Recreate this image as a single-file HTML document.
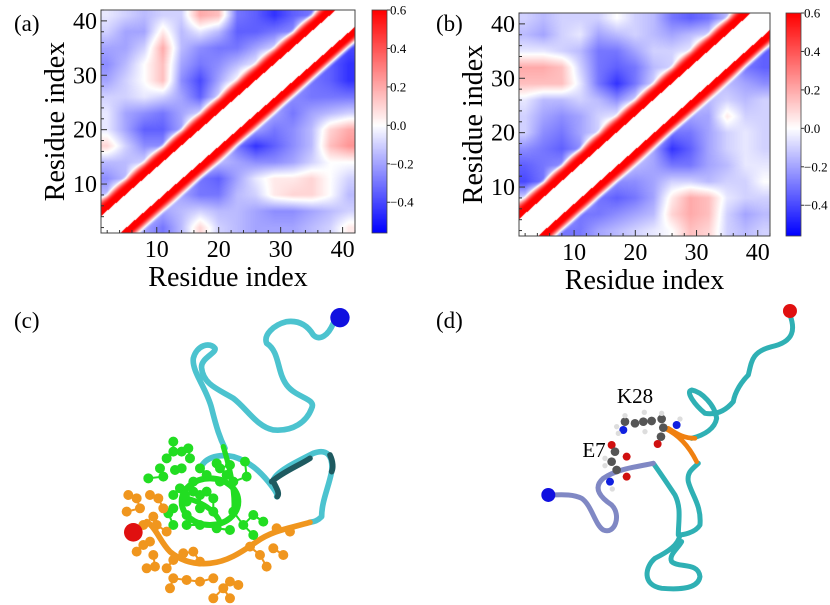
<!DOCTYPE html>
<html><head><meta charset="utf-8"><style>
html,body{margin:0;padding:0;background:#fff;}
#root{position:relative;width:830px;height:605px;overflow:hidden;font-family:"Liberation Serif",serif;}
canvas{position:absolute;}
svg{position:absolute;left:0;top:0;font-family:"Liberation Serif",serif;}
</style></head><body>
<div id="root">
<canvas id="hmA" style="left:101px;top:10px" width="254" height="223"></canvas>
<canvas id="cbA" style="left:372px;top:10px" width="15" height="223"></canvas>
<canvas id="hmB" style="left:519px;top:13px" width="251" height="223"></canvas>
<canvas id="cbB" style="left:786px;top:13px" width="15" height="223"></canvas>
<svg id="ov" width="830" height="605">
<text x="14" y="31" font-size="23">(a)</text>
<text x="436" y="31" font-size="23">(b)</text>
<text x="14" y="328" font-size="23">(c)</text>
<text x="436" y="328" font-size="23">(d)</text>

<!-- panel c -->
<g transform="translate(0,295) scale(0.3333)" fill="none" stroke-linecap="round" stroke-linejoin="round">
<path stroke="#4cc3cf" stroke-width="17" d="M1000,85 C985,120 960,140 940,120 C925,95 900,75 860,80 C820,90 790,120 800,145 C840,170 830,230 860,270 C890,310 950,310 935,340 C920,380 880,410 820,405 C770,395 740,340 700,310 C660,285 610,270 605,220 C600,190 650,175 645,160 C630,140 590,150 580,190 C575,230 620,280 635,340 C650,400 660,430 675,460"/>
<path stroke="#4cc3cf" stroke-width="17" d="M600,525 C610,490 650,475 700,485 C750,500 780,530 805,560 C825,585 835,600 830,605"/>
<path stroke="#4cc3cf" stroke-width="17" d="M820,555 C830,530 880,505 940,475 C980,460 1000,480 995,530 C985,580 965,620 965,665 C950,680 940,680 930,682"/>
<path stroke="#1e5a60" stroke-width="17" d="M815,560 C850,530 900,510 930,490 M990,480 C1000,500 1000,520 995,530 M820,560 C830,580 840,595 832,605"/>
<path stroke="#f0961e" stroke-width="17" d="M930,682 C870,700 820,705 770,740 C720,775 680,800 630,805 C580,810 540,795 510,770 C480,740 470,700 440,680"/>
<ellipse cx="630" cy="620" rx="85" ry="70" stroke="#22dd22" stroke-width="18"/>
<path stroke="#22dd22" stroke-width="16" d="M670,455 C690,520 710,600 700,660 M560,610 C600,620 640,640 660,680"/>
<g id="greenAtoms" fill="#22dd22" stroke="#22dd22" stroke-width="6"></g>
<g id="orangeAtoms" fill="#f0961e" stroke="#f0961e" stroke-width="6"></g>
<circle cx="1020" cy="68" r="29" fill="#1010e0" stroke="none"/>
<circle cx="400" cy="712" r="28" fill="#e01010" stroke="none"/>
</g>

<!-- panel d -->
<g transform="translate(415,295) scale(0.3333)" fill="none" stroke-linecap="round" stroke-linejoin="round">
<path stroke="#2fb0b4" stroke-width="15" d="M1125,60 C1140,100 1140,140 1070,155 C1010,170 1010,200 1000,240 C980,260 960,290 955,320 C930,350 900,360 870,355 C840,330 810,290 830,285 C860,290 900,330 905,370 C900,400 870,420 830,430 M850,505 C835,520 815,530 820,560 C830,600 860,630 855,690 C840,715 800,720 790,720 C790,680 800,640 780,600 C760,570 740,540 715,505"/>
<path stroke="#f08010" stroke-width="14" d="M750,400 C790,420 820,450 845,500 M760,400 C790,420 810,430 840,430"/>
<path stroke="#2fb0b4" stroke-width="15" d="M795,720 C790,750 760,770 720,790 C690,815 680,870 740,880 C800,885 850,880 855,845 C850,800 790,820 770,800 C760,780 790,760 800,740"/>
<path stroke="#8088c4" stroke-width="15" d="M715,505 C670,515 610,520 565,550 C530,580 560,610 590,630 C620,660 600,720 565,705 C540,690 530,630 500,610 C470,595 430,600 400,600"/>
<g id="greyAtoms"></g>
<circle cx="1125" cy="48" r="21" fill="#e01010" stroke="none"/>
<circle cx="400" cy="600" r="21" fill="#1010e0" stroke="none"/>
</g>
<text x="635" y="403" font-size="21" text-anchor="middle">K28</text>
<text x="594" y="457" font-size="21" text-anchor="middle">E7</text>
</svg>
</div>
<script>
// ---- data ----
const residueTicks = [10, 20, 30, 40];
const colorbarTicks = [0.6, 0.4, 0.2, 0.0, -0.2, -0.4];
const colorbarLabels = ["0.6", "0.4", "0.2", "0.0", "\u22120.2", "\u22120.4"];
const gridResidues = [2,5,8,11,14,17,20,23,26,29,32,35,38,41];
const gridRowsY = [41,38,35,32,29,26,23,20,17,14,11,8,5,2];
const corrA = [
[-0.05,-0.1,-0.15,-0.1,-0.1,0.2,0.15,-0.3,-0.35,-0.45,-0.35,-0.3,0.5,0.5],
[-0.1,-0.2,-0.2,0.05,-0.15,-0.05,-0.15,-0.35,-0.35,-0.3,-0.25,0.5,0.5,-0.2],
[-0.2,-0.2,-0.1,0.2,-0.15,-0.25,-0.3,-0.3,-0.2,-0.1,0.5,0.5,-0.3,-0.4],
[-0.25,-0.15,0.0,0.15,-0.2,-0.3,-0.25,-0.15,-0.05,0.5,0.5,-0.3,-0.35,-0.45],
[-0.2,-0.1,0.0,0.15,-0.25,-0.4,-0.2,0.0,0.5,0.5,-0.2,-0.3,-0.35,-0.45],
[-0.1,-0.1,-0.05,-0.1,-0.2,-0.35,-0.1,0.5,0.5,-0.25,-0.25,-0.3,-0.3,-0.3],
[-0.05,-0.2,-0.25,-0.3,-0.2,-0.1,0.5,0.5,-0.1,-0.2,-0.3,-0.2,-0.15,-0.1],
[-0.05,-0.2,-0.35,-0.35,-0.2,0.5,0.5,-0.1,-0.2,-0.3,-0.25,-0.15,0.1,0.2],
[0.1,-0.1,-0.25,-0.25,0.5,0.5,-0.05,-0.3,-0.45,-0.35,-0.25,-0.15,0.15,0.25],
[-0.15,-0.15,-0.1,0.5,0.5,-0.1,-0.15,-0.2,-0.25,-0.25,-0.2,-0.1,0.0,0.0],
[-0.25,-0.15,0.5,0.5,-0.15,-0.3,-0.35,-0.2,-0.05,0.05,0.05,0.1,0.0,-0.1],
[-0.15,0.5,0.5,-0.1,-0.2,-0.3,-0.3,-0.15,-0.1,0.05,0.1,0.1,0.0,-0.15],
[0.5,0.5,-0.1,-0.2,-0.15,-0.1,-0.15,-0.15,-0.2,-0.25,-0.25,-0.2,-0.15,-0.1],
[0.5,-0.1,-0.2,-0.3,-0.15,0.1,-0.1,-0.15,-0.2,-0.2,-0.2,-0.15,-0.1,0.05]];
const corrB = [
[-0.1,-0.15,-0.1,-0.1,-0.1,0.0,-0.1,-0.15,-0.3,-0.35,-0.3,-0.15,0.5,0.5],
[-0.15,-0.2,-0.1,-0.05,-0.2,-0.15,-0.1,-0.15,-0.2,-0.15,-0.1,0.5,0.5,-0.1],
[-0.05,-0.05,-0.1,-0.15,-0.3,-0.3,-0.2,-0.1,-0.1,-0.05,0.5,0.5,-0.25,-0.35],
[0.2,0.2,0.15,-0.1,-0.3,-0.35,-0.3,-0.15,-0.1,0.5,0.5,-0.1,-0.3,-0.35],
[0.15,0.15,0.15,-0.05,-0.3,-0.45,-0.3,-0.1,0.5,0.5,-0.1,-0.15,-0.2,-0.25],
[-0.05,-0.15,-0.15,-0.1,-0.15,-0.25,-0.1,0.5,0.5,-0.1,-0.15,-0.1,-0.15,-0.1],
[-0.1,-0.2,-0.25,-0.2,-0.1,-0.05,0.5,0.5,-0.15,-0.2,-0.2,0.05,-0.1,-0.1],
[-0.1,-0.25,-0.3,-0.2,-0.1,0.5,0.5,-0.1,-0.3,-0.3,-0.2,-0.1,-0.05,-0.1],
[-0.25,-0.3,-0.35,-0.25,0.5,0.5,-0.05,-0.2,-0.45,-0.35,-0.2,-0.1,-0.05,-0.1],
[-0.35,-0.3,-0.25,0.5,0.5,-0.05,-0.15,-0.2,-0.3,-0.3,-0.2,-0.15,-0.05,-0.05],
[-0.4,-0.3,0.5,0.5,-0.15,-0.25,-0.25,-0.2,-0.1,-0.1,-0.15,-0.1,-0.1,0.0],
[-0.1,0.5,0.5,-0.1,-0.3,-0.35,-0.3,-0.2,0.05,0.2,0.15,-0.05,-0.1,-0.1],
[0.5,0.5,-0.15,-0.3,-0.3,-0.25,-0.2,-0.15,0.1,0.2,0.15,-0.1,-0.2,-0.15],
[0.5,-0.2,-0.3,-0.3,-0.2,-0.15,-0.1,-0.05,0.0,0.15,0.1,-0.1,-0.15,-0.1]];
const diagValue = 0.6;
const vmin = -0.56, vmax = 0.6;

const NS = "http://www.w3.org/2000/svg";
const ov = document.getElementById('ov');
function colorOf(v){
  v = Math.max(vmin, Math.min(vmax, v));
  if (v < 0){ const t = v / vmin; return [255*(1-t), 255*(1-t), 255]; }
  const t = v / vmax; return [255, 255*(1-t), 255*(1-t)];
}
function sm(t){ return t*t*(3-2*t); }
function sample(M, x, y){
  const step = gridResidues[1]-gridResidues[0];
  let u = (x-gridResidues[0])/step, v = (gridRowsY[0]-y)/step;
  const n = gridResidues.length-1;
  u = Math.max(0, Math.min(n, u)); v = Math.max(0, Math.min(n, v));
  const i = Math.min(n-1, Math.floor(u)), j = Math.min(n-1, Math.floor(v));
  const fu = (u-i), fv = (v-j);
  const a = M[j][i], b = M[j][i+1], c = M[j+1][i], d = M[j+1][i+1];
  return (a*(1-fu)+b*fu)*(1-fv) + (c*(1-fu)+d*fu)*fv;
}
function drawHeat(id, M){
  const cv = document.getElementById(id), ctx = cv.getContext('2d');
  const w = cv.width, h = cv.height, img = ctx.createImageData(w, h);
  for (let py=0; py<h; py++) for (let px=0; px<w; px++){
    const x = 1 + (px+0.5)/w*41, y = 42 - (py+0.5)/h*41;
    const d = Math.abs(x-y);
    let col;
    if (d < 3.1) col = [255,255,255];
    else {
      let v = sample(M, x, y);
      if (d < 4.3) v = diagValue;
      else if (d < 6.8){ const t = sm((d-4.3)/2.5); v = diagValue*(1-t) + v*t; }
      col = colorOf(v);
    }
    const k = (py*w+px)*4;
    img.data[k]=col[0]; img.data[k+1]=col[1]; img.data[k+2]=col[2]; img.data[k+3]=255;
  }
  ctx.putImageData(img, 0, 0);
}
function drawCb(id){
  const cv = document.getElementById(id), ctx = cv.getContext('2d');
  for (let py=0; py<cv.height; py++){
    const v = vmax - (py+0.5)/cv.height*(vmax-vmin);
    const c = colorOf(v);
    ctx.fillStyle = `rgb(${c[0]|0},${c[1]|0},${c[2]|0})`;
    ctx.fillRect(0, py, cv.width, 1);
  }
}
function el(tag, attrs, parent){
  const e = document.createElementNS(NS, tag);
  for (const k in attrs) e.setAttribute(k, attrs[k]);
  (parent||ov).appendChild(e); return e;
}
function axes(L, T, W, H, cbL, tag){
  const xs = v => L + (v-1)/41*W, ys = v => T + (42-v)/41*H;
  const fr = el('rect', {x:L, y:T, width:W, height:H, fill:'none', stroke:'#444', 'stroke-width':1});
  
  
  for (let v=2; v<=42; v+=2){
    const major = residueTicks.includes(v), len = major ? 6 : 3;
    const tx = el('line', {x1:xs(v), x2:xs(v), y1:T+H, y2:T+H-len, stroke:'#333', 'stroke-width':1});
    
    
    const ty = el('line', {x1:L, x2:L+len, y1:ys(v), y2:ys(v), stroke:'#333', 'stroke-width':1});
    
    
  }
  residueTicks.forEach(v => {
    const a = el('text', {x:xs(v), y:T+H+24, 'font-size':24, 'text-anchor':'middle'});
    a.textContent = v;
    
    
    const b = el('text', {x:L-4, y:ys(v)+8, 'font-size':24, 'text-anchor':'end'});
    b.textContent = v;
    
    
  });
  const xl = el('text', {x:L+W/2, y:T+H+53, 'font-size':28, 'text-anchor':'middle'});
  xl.textContent = 'Residue index';
  
  
  const yc = L-46, ymid = T+H/2;
  const yl = el('text', {x:yc, y:ymid, 'font-size':28, 'text-anchor':'middle', transform:`rotate(-90 ${yc} ${ymid})`, dy:9});
  yl.textContent = 'Residue index';
  
  
  const cbT = T, cbH = H, cs = v => cbT + (vmax-v)/(vmax-vmin)*cbH;
  const cf = el('rect', {x:cbL, y:cbT, width:15, height:cbH, fill:'none', stroke:'#444', 'stroke-width':0.8});
  
  
  colorbarTicks.forEach((v, i) => {
    const t = el('line', {x1:cbL+15, x2:cbL+18, y1:cs(v), y2:cs(v), stroke:'#333', 'stroke-width':1});
    
    
    const lb = el('text', {x:cbL+18, y:cs(v)+4.5, 'font-size':13});
    lb.textContent = colorbarLabels[i];
    
    
  });
}
drawHeat('hmA', corrA); drawHeat('hmB', corrB);
drawCb('cbA'); drawCb('cbB');
axes(101, 10, 254, 223, 372, 'a');
axes(519, 13, 251, 223, 786, 'b');

// ---- atoms (ball & stick) ----
const greenAtomPos = [[520,440],[545,470],[520,470],[570,490],[500,490],[480,520],[445,550],[490,545],[525,525],[545,520],[565,460],[600,520],[650,505],[690,510],[735,500],[740,545],[700,560],[660,560],[620,540],[580,560],[540,580],[520,600],[560,620],[520,640],[505,655],[560,660],[600,690],[650,700],[690,705],[730,690],[760,660],[790,680],[700,650],[640,650],[600,640],[560,690],[520,690],[760,720],[620,590],[640,610],[555,600],[580,590],[600,600],[660,520],[680,540]];
const orangeAtomPos = [[385,600],[410,610],[380,650],[420,640],[450,600],[475,610],[490,640],[460,665],[430,690],[470,690],[500,710],[450,740],[410,770],[430,750],[440,820],[465,815],[500,820],[520,850],[560,855],[510,880],[550,775],[580,770],[600,860],[640,850],[670,880],[690,860],[715,870],[640,910],[690,910],[750,755],[780,780],[800,815],[820,760],[850,780],[830,700],[870,710],[520,795],[600,800],[460,780]];
function bonds(list, g, n){
  for (let i=0;i<list.length;i++){
    const [x,y] = list[i];
    let best=-1, bd=1e9;
    for (let j=0;j<list.length;j++){ if(j===i) continue; const d=Math.hypot(list[j][0]-x,list[j][1]-y); if(d<bd){bd=d;best=j;} }
    if (best>=0 && bd<60){
      const l = el('line', {x1:x,y1:y,x2:list[best][0],y2:list[best][1]}, g);
      
      
    }
    const c = el('circle', {cx:x, cy:y, r:12}, g);
    
    
  }
}
bonds(greenAtomPos, document.getElementById('greenAtoms'), 'green');
bonds(orangeAtomPos, document.getElementById('orangeAtoms'), 'orange');
const smallAtoms = [[630,380,'#555',13],[660,385,'#555',13],[685,380,'#555',13],[710,378,'#555',13],[740,372,'#555',13],[745,398,'#555',13],[738,425,'#555',13],[728,447,'#d01010',12],[625,405,'#1020e0',12],[785,390,'#1020e0',12],[630,362,'#ddd',8],[605,395,'#ddd',8],[610,415,'#ddd',8],[688,352,'#ddd',8],[740,355,'#ddd',8],[690,410,'#ddd',8],[795,372,'#ddd',8],[590,450,'#d01010',12],[635,485,'#d01010',12],[600,470,'#555',13],[590,500,'#555',13],[605,525,'#555',13],[635,545,'#d01010',12],[585,560,'#1020e0',12],[592,582,'#ddd',8],[570,490,'#ddd',8],[570,512,'#ddd',8]];
const ga = document.getElementById('greyAtoms');
smallAtoms.forEach(a => {
  const c = el('circle', {cx:a[0], cy:a[1], r:a[3], fill:a[2], stroke:'none'}, ga);
  
  
});
</script>
</body></html>
